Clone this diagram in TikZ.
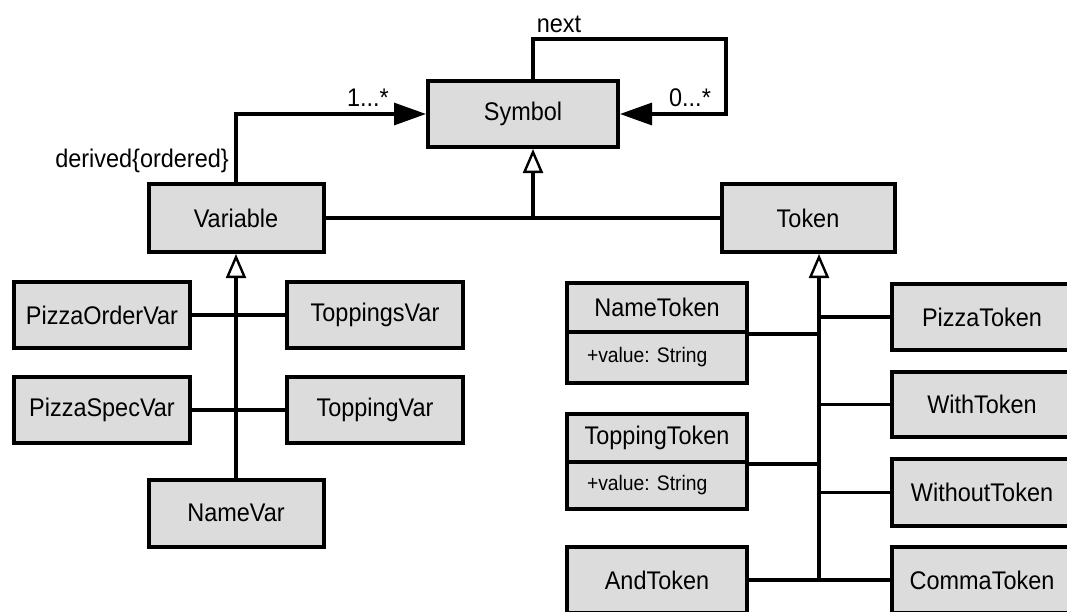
\documentclass[tikz,border=0pt]{standalone}
\usepackage{fontspec}
\setmainfont[FakeStretch=0.92]{Liberation Sans}
\usetikzlibrary{arrows.meta,calc}
\definecolor{boxfill}{RGB}{220,220,220}
\begin{document}
\begin{tikzpicture}[x=1pt,y=-1pt,
  cls/.style={draw, line width=4pt, fill=boxfill, inner sep=0pt,
    minimum width=180pt, minimum height=66pt,
    font=\fontsize{25.5}{30}\selectfont},
  attr/.style={cls, font=\fontsize{21}{25}\selectfont},
  lbl/.style={inner sep=0pt, font=\fontsize{25.5}{30}\selectfont},
  link/.style={line width=3.2pt},
  assoc/.style={link, -{Triangle[length=32pt,width=22pt]}},
  gen/.style={link, -{Triangle[open,length=24pt,width=20pt,line width=2.4pt,fill=white]}}
]
\useasboundingbox (0,0) rectangle (1067,611);
\fill[white] (0,0) rectangle (1067,611);
\clip (0,0) rectangle (1067,611);

% top level
\node[cls, minimum width=190pt] (Symbol) at (523,114) {Symbol};
\node[cls, minimum width=175pt, minimum height=68pt] (Variable) at (236,218) {Variable};
\node[cls, minimum width=173pt, minimum height=68pt] (Token) at (808,218) {Token};

% variables
\node[cls, minimum width=176pt] (PizzaOrderVar) at (102,315) {PizzaOrderVar};
\node[cls, minimum width=176pt] (ToppingsVar) at (375,315) {ToppingsVar};
\node[cls, minimum width=176pt] (PizzaSpecVar) at (102,410) {PizzaSpecVar};
\node[cls, minimum width=176pt] (ToppingVar) at (375,410) {ToppingVar};
\node[cls, minimum width=175pt, minimum height=67pt] (NameVar) at (236,513) {NameVar};

% tokens with attributes
\node[cls, minimum height=49pt] (NameToken) at (657,307.5) {NameToken};
\node[attr, minimum height=51pt] (NameTokenAttr) at (657,357.5) {\makebox[140pt][l]{+value: String}};
\node[cls, minimum height=48pt] (ToppingToken) at (657,438) {ToppingToken};
\node[attr, minimum height=47pt] (ToppingTokenAttr) at (657,485.5) {\makebox[140pt][l]{+value: String}};
\node[cls] (AndToken) at (657,580) {AndToken};

% plain tokens
\node[cls] (PizzaToken) at (982,317) {PizzaToken};
\node[cls, minimum height=65pt] (WithToken) at (982,404.5) {WithToken};
\node[cls, minimum height=67pt] (WithoutToken) at (982,492.5) {WithoutToken};
\node[cls] (CommaToken) at (982,580) {CommaToken};

% self association of Symbol
\coordinate (loopTL) at (533,39);
\coordinate (loopBR) at (726,114);
\draw[assoc] (Symbol.north -| loopTL) -- (loopTL) -- (loopTL -| loopBR) -- (loopBR) -- (Symbol.east);
\node[lbl] (nextLbl) at (559,24) {next};
\node[lbl] (zeroMany) at (690,98) {0...*};

% Variable to Symbol association
\draw[assoc] (Variable.north) |- (Symbol.west);
\node[lbl] (oneMany) at (368,98) {1...*};
\node[lbl] (derivedLbl) at (142,161) {derived\{ordered\}};

% generalization to Symbol
\coordinate (symSpine) at (533,218);
\draw[link] (Variable.east) -- (Token.west);
\draw[gen] (symSpine) -- (Symbol.south -| symSpine);

% generalization to Variable
\draw[gen] (NameVar.north) -- (Variable.south);
\draw[link] (PizzaOrderVar.east) -- (ToppingsVar.west);
\draw[link] (PizzaSpecVar.east) -- (ToppingVar.west);

% generalization to Token
\coordinate (tokSpine) at (819,580);
\draw[gen] (tokSpine) -- (Token.south -| tokSpine);
\draw[link] (AndToken.east) -- (CommaToken.west);
\draw[link] (NameToken.south east) -- (NameToken.south east -| tokSpine);
\draw[link] (ToppingToken.south east) -- (ToppingToken.south east -| tokSpine);
\draw[link] (PizzaToken.west) -- (PizzaToken.west -| tokSpine);
\draw[link] (WithToken.west) -- (WithToken.west -| tokSpine);
\draw[link] (WithoutToken.west) -- (WithoutToken.west -| tokSpine);
\end{tikzpicture}
\end{document}
